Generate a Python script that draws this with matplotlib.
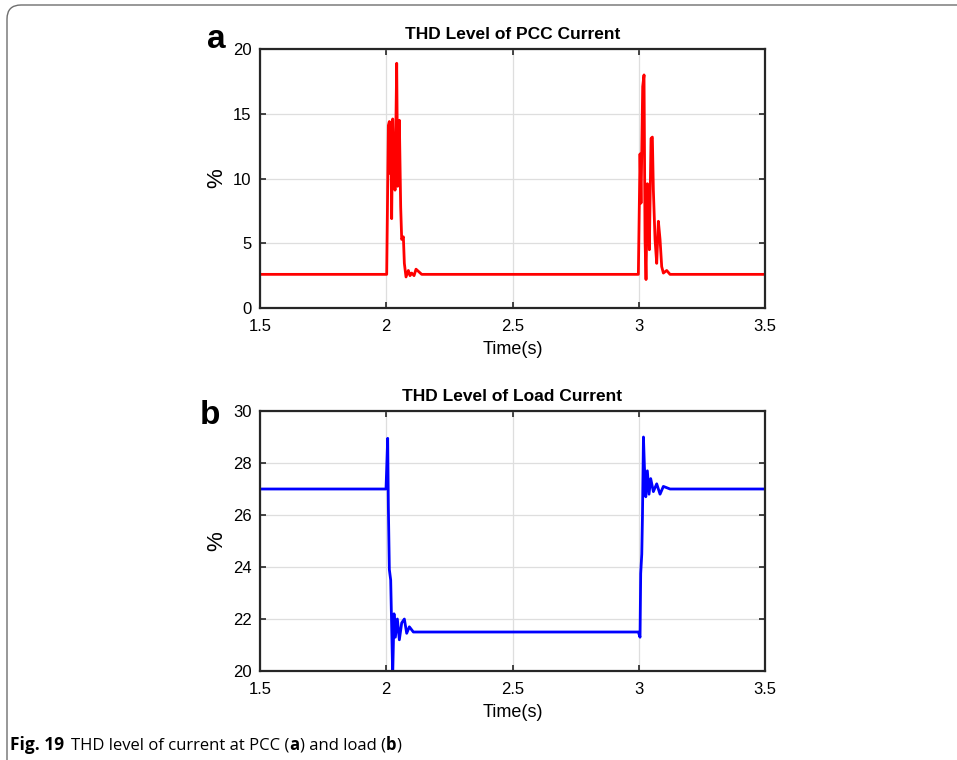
import matplotlib
matplotlib.use("Agg")
from matplotlib import pyplot as plt
from matplotlib.patches import FancyBboxPatch

# THD of PCC current (%)
t_pcc = [1.5, 2.0017, 2.0083, 2.0122, 2.0149, 2.0175, 2.0214, 2.0254, 2.0307,
         2.0347, 2.0413, 2.0452, 2.0518, 2.0571, 2.0611, 2.0677, 2.0716, 2.0782,
         2.0875, 2.0940, 2.1007, 2.1100, 2.1178, 2.1403,
         2.9983, 3.0050, 3.0089, 3.0155, 3.0208, 3.0248, 3.0287, 3.0340, 3.0380,
         3.0419, 3.0485, 3.0538, 3.0578, 3.0644, 3.0710, 3.0776, 3.0842, 3.0908,
         3.0974, 3.1106, 3.1238, 3.1370, 3.5]
thd_pcc = [2.6, 2.6, 14.1, 14.4, 10.4, 14.3, 6.9, 14.6, 10.4,
           9.1, 18.9, 9.4, 14.5, 7.8, 5.3, 5.5, 3.45, 2.4,
           2.9, 2.5, 2.7, 2.5, 3.0, 2.6,
           2.6, 11.9, 8.1, 17.1, 18.0, 5.25, 2.2, 9.6, 8.6,
           4.5, 13.1, 13.2, 9.1, 5.3, 3.45, 6.7, 5.3, 3.2,
           2.7, 2.9, 2.6, 2.6, 2.6]

# THD of load current (%)
t_load = [1.5, 1.999, 2.0056, 2.0083, 2.0122, 2.0175, 2.0214, 2.0254, 2.0307,
          2.0360, 2.0439, 2.0518, 2.0611, 2.0716, 2.0809, 2.0914, 2.1073,
          2.9983, 3.0050, 3.0076, 3.0119, 3.0145, 3.0185, 3.0224, 3.0277,
          3.0340, 3.0406, 3.0472, 3.0578, 3.0710, 3.0842, 3.0974, 3.1238, 3.5]
thd_load = [27.0, 27.0, 28.95, 26.3, 23.9, 23.5, 21.7, 19.8, 22.2,
            21.3, 22.0, 21.2, 21.85, 22.0, 21.45, 21.7, 21.5,
            21.5, 21.3, 23.75, 24.5, 25.9, 29.0, 27.85, 26.7,
            27.7, 26.8, 27.4, 26.9, 27.2, 26.8, 27.1, 27.0, 27.0]

plt.rcParams['font.family'] = 'Liberation Sans'

fig = plt.figure(figsize=(9.57, 7.6), dpi=100)

# rounded frame around the figure
frame = FancyBboxPatch((0.07, -1.0), 20, 8.55, boxstyle="round,pad=0,rounding_size=0.14",
                       transform=fig.dpi_scale_trans, fill=False, edgecolor='#6e6e6e', lw=1.0)
fig.patches.append(frame)


def style_axes(ax, yticks):
    ax.set_xlim(1.5, 3.5)
    ax.set_xticks([1.5, 2, 2.5, 3, 3.5])
    ax.set_xticklabels(['1.5', '2', '2.5', '3', '3.5'])
    ax.set_yticks(yticks)
    ax.grid(True, color='#dedede', lw=0.9)
    ax.set_axisbelow(True)
    ax.tick_params(direction='in', top=True, right=True, labelsize=12, length=4,
                   width=1.2, color='#262626')
    ax.tick_params(axis='x', pad=8)
    ax.tick_params(axis='y', pad=6)
    for s in ax.spines.values():
        s.set_linewidth(1.6)
        s.set_color('#262626')
    ax.set_xlabel('Time(s)', fontsize=13, labelpad=5)
    ax.set_ylabel('%', fontsize=16, labelpad=4)


ax1 = fig.add_axes([0.2717, 0.5947, 0.5277, 0.3408])
ax1.plot(t_pcc, thd_pcc, color='#ff0000', lw=2)
ax1.set_ylim(0, 20)
style_axes(ax1, [0, 5, 10, 15, 20])
ax1.set_title('THD Level of PCC Current', fontsize=12.5, fontweight='bold', pad=7)

ax2 = fig.add_axes([0.2717, 0.1171, 0.5277, 0.3421])
ax2.plot(t_load, thd_load, color='#0000ff', lw=2)
ax2.set_ylim(20, 30)
style_axes(ax2, [20, 22, 24, 26, 28, 30])
ax2.set_title('THD Level of Load Current', fontsize=12.5, fontweight='bold', pad=7)

fig.text(216 / 957, 1 - 40 / 760, 'a', fontsize=24, fontweight='bold', ha='center', va='center')
fig.text(210 / 957, 1 - 415 / 760, 'b', fontsize=24, fontweight='bold', ha='center', va='center')

# caption, bold and regular pieces laid side by side
y_cap = 1 - 745 / 760
t1 = fig.text(10 / 957, y_cap, 'Fig. 19', fontsize=12.5, fontweight='bold',
              va='center', family='Open Sans')
fig.canvas.draw()
x = t1.get_window_extent().x1 + 7
parts = [('THD level of current at PCC (', 'normal'), ('a', 'bold'),
         (') and load (', 'normal'), ('b', 'bold'), (')', 'normal')]
for txt, w in parts:
    tt = fig.text(x / 957, y_cap, txt, fontsize=12, fontweight=w,
                  va='center', family='Open Sans')
    fig.canvas.draw()
    x = tt.get_window_extent().x1

fig.savefig('out.png', dpi=100)
